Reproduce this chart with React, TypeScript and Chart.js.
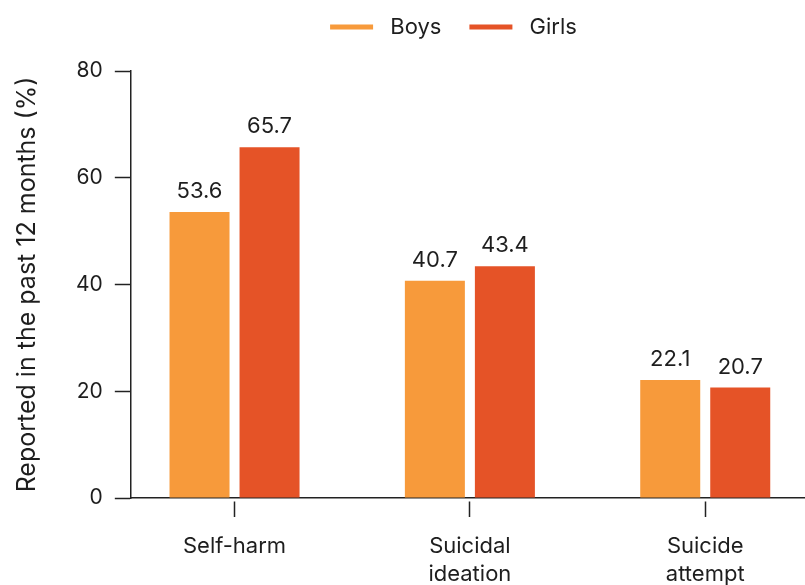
import React, { useEffect, useRef } from "react";
import { Chart, registerables } from "chart.js";

Chart.register(...registerables);

// ---- data ----
const categories: (string | string[])[] = ["Self-harm", ["Suicidal", "ideation"], ["Suicide", "attempt"]];
const seriesNames = ["Boys", "Girls"];
const boysValues = [53.6, 40.7, 22.1];
const girlsValues = [65.7, 43.4, 20.7];
const yTickValues = [0, 20, 40, 60, 80];
const yTitle = "Reported in the past 12 months (%)";

// ---- style ----
const seriesColors = ["#F79A3B", "#E55327"];
const FONT = "Inter, 'Noto Sans', sans-serif";
const TEXT = "#1e1e1e";
const AXIS = "#222222";
const CANVAS_W = 907;
const CANVAS_H = 606;

const legendGap = {
  id: "legendGap",
  beforeLayout(chart: any) {
    const legend = chart.legend;
    if (!legend || legend.__gapPatched) return;
    const orig = legend.fit;
    legend.fit = function () {
      orig.call(this);
      this.height += 23;
    };
    legend.__gapPatched = true;
  },
};

const valueLabels = {
  id: "valueLabels",
  afterDatasetsDraw(chart: any) {
    const ctx = chart.ctx;
    ctx.save();
    ctx.font = `22px ${FONT}`;
    ctx.fillStyle = TEXT;
    ctx.textAlign = "center";
    ctx.textBaseline = "alphabetic";
    chart.data.datasets.forEach((ds: any, i: number) => {
      const meta = chart.getDatasetMeta(i);
      meta.data.forEach((el: any, j: number) => {
        const v = ds.data[j].y as number;
        ctx.fillText(v.toFixed(1), el.x, el.y - 14);
      });
    });
    ctx.restore();
  },
};

export default function App() {
  const ref = useRef<HTMLCanvasElement | null>(null);

  useEffect(() => {
    if (!ref.current) return;
    const series = [boysValues, girlsValues];
    const chart = new Chart(ref.current, {
      type: "bar",
      data: {
        datasets: seriesNames.map((name, i) => ({
          label: name,
          data: series[i].map((v, j) => ({ x: j, y: v })),
          backgroundColor: seriesColors[i],
          borderWidth: 0,
          categoryPercentage: 0.595,
          barPercentage: 0.857,
        })),
      },
      options: {
        animation: false,
        responsive: true,
        maintainAspectRatio: false,
        layout: { padding: { top: -12, left: 0, right: 0, bottom: 2 } },
        plugins: {
          tooltip: { enabled: false },
          legend: {
            position: "top",
            labels: {
              boxWidth: 43,
              boxHeight: 5,
              padding: 28,
              color: TEXT,
              font: { family: FONT, size: 22 },
              generateLabels: (chart: any) =>
                (Chart.defaults.plugins.legend.labels as any)
                  .generateLabels(chart)
                  .map((l: any) => ({ ...l, text: " " + l.text })),
            },
          },
        },
        scales: {
          x: {
            type: "linear",
            min: -0.4407,
            max: 2.8573,
            offset: false,
            afterBuildTicks: (scale: any) => {
              scale.ticks = categories.map((_, i) => ({ value: i }));
            },
            ticks: {
              autoSkip: false,
              maxRotation: 0,
              minRotation: 0,
              padding: 16,
              color: TEXT,
              font: { family: FONT, size: 22, lineHeight: 1.25 },
              callback: (value: any) => categories[value as number] as any,
            },
            grid: {
              offset: false,
              drawOnChartArea: false,
              drawTicks: true,
              tickLength: 19,
              tickColor: AXIS,
              tickWidth: 1.5,
              tickBorderDash: [0, 3, 16, 10],
            } as any,
            border: { display: true, color: AXIS, width: 1.5 },
          },
          y: {
            type: "linear",
            min: yTickValues[0],
            max: yTickValues[yTickValues.length - 1],
            afterBuildTicks: (scale: any) => {
              scale.ticks = yTickValues.map((v) => ({ value: v }));
            },
            ticks: {
              padding: 12,
              color: TEXT,
              font: { family: FONT, size: 21 },
            },
            grid: {
              drawOnChartArea: false,
              drawTicks: true,
              tickLength: 16,
              tickColor: AXIS,
              tickWidth: 1.5,
            },
            border: { display: true, color: AXIS, width: 1.5 },
            title: {
              display: true,
              text: yTitle,
              color: TEXT,
              font: { family: FONT, size: 25 },
              padding: { top: 12, bottom: 22 },
            },
          },
        },
      },
      plugins: [legendGap, valueLabels],
    } as any);
    return () => chart.destroy();
  }, []);

  return (
    <div
      style={{
        position: "fixed",
        left: 0,
        top: 0,
        width: 805,
        height: 585,
        overflow: "hidden",
        background: "#ffffff",
      }}
    >
      <div style={{ position: "relative", width: CANVAS_W, height: CANVAS_H }}>
        <canvas ref={ref} />
      </div>
    </div>
  );
}
